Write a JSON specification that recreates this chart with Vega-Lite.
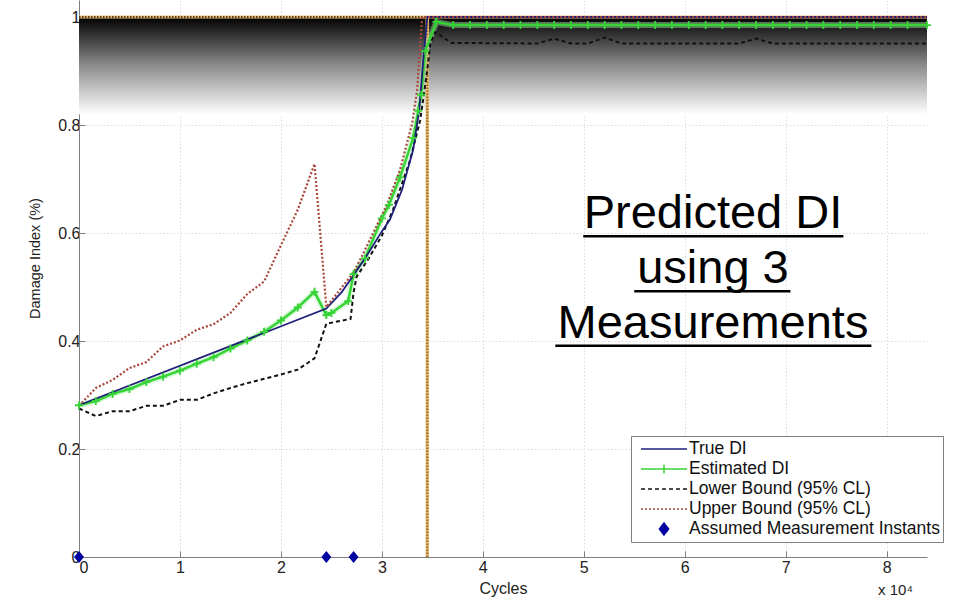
{
  "$schema": "https://vega.github.io/schema/vega-lite/v6.json",
  "width": 848,
  "height": 557,
  "autosize": {"type": "none"},
  "padding": {"left": 79, "top": 0, "right": 27, "bottom": 40},
  "background": "#ffffff",
  "config": {
    "font": "Liberation Sans",
    "view": {"stroke": null}
  },
  "datasets": {
    "band": [{"x": 0, "x2": 8.4, "y": 0.82, "y2": 1}],
    "limitH": [{"x": 0, "x2": 8.4, "y": 1}],
    "limitV": [{"x": 3.45, "y": 0, "y2": 1}],
    "instants": [{"x": 0, "y": 0}, {"x": 2.45, "y": 0}, {"x": 2.72, "y": 0}],
    "notes": [
      {"x": 6.28, "y": 0.609, "text": "Predicted DI"},
      {"x": 6.28, "y": 0.507, "text": "using 3"},
      {"x": 6.28, "y": 0.406, "text": "Measurements"}
    ],
    "underlines": [
      {"x": 4.995, "x2": 7.572, "y": 0.594},
      {"x": 5.5, "x2": 7.047, "y": 0.492},
      {"x": 4.718, "x2": 7.849, "y": 0.391}
    ],
    "exponent": [{"x": 7.915, "y": -0.07, "text": "x 10⁴"}],
    "curves": [
      {"series": "Lower Bound (95% CL)", "x": 0, "y": 0.275},
      {"series": "Lower Bound (95% CL)", "x": 0.167, "y": 0.261},
      {"series": "Lower Bound (95% CL)", "x": 0.333, "y": 0.27},
      {"series": "Lower Bound (95% CL)", "x": 0.5, "y": 0.27},
      {"series": "Lower Bound (95% CL)", "x": 0.667, "y": 0.28},
      {"series": "Lower Bound (95% CL)", "x": 0.833, "y": 0.28},
      {"series": "Lower Bound (95% CL)", "x": 1.0, "y": 0.291},
      {"series": "Lower Bound (95% CL)", "x": 1.167, "y": 0.291},
      {"series": "Lower Bound (95% CL)", "x": 1.333, "y": 0.303},
      {"series": "Lower Bound (95% CL)", "x": 1.5, "y": 0.313},
      {"series": "Lower Bound (95% CL)", "x": 1.667, "y": 0.322},
      {"series": "Lower Bound (95% CL)", "x": 1.833, "y": 0.33},
      {"series": "Lower Bound (95% CL)", "x": 2.0, "y": 0.338},
      {"series": "Lower Bound (95% CL)", "x": 2.167, "y": 0.347},
      {"series": "Lower Bound (95% CL)", "x": 2.333, "y": 0.368},
      {"series": "Lower Bound (95% CL)", "x": 2.45, "y": 0.432},
      {"series": "Lower Bound (95% CL)", "x": 2.69, "y": 0.441},
      {"series": "Lower Bound (95% CL)", "x": 2.72, "y": 0.49},
      {"series": "Lower Bound (95% CL)", "x": 2.75, "y": 0.519},
      {"series": "Lower Bound (95% CL)", "x": 2.87, "y": 0.553},
      {"series": "Lower Bound (95% CL)", "x": 3.0, "y": 0.595},
      {"series": "Lower Bound (95% CL)", "x": 3.11, "y": 0.643},
      {"series": "Lower Bound (95% CL)", "x": 3.28, "y": 0.735},
      {"series": "Lower Bound (95% CL)", "x": 3.38, "y": 0.809},
      {"series": "Lower Bound (95% CL)", "x": 3.45, "y": 0.902},
      {"series": "Lower Bound (95% CL)", "x": 3.48, "y": 0.951},
      {"series": "Lower Bound (95% CL)", "x": 3.53, "y": 0.972},
      {"series": "Lower Bound (95% CL)", "x": 3.69, "y": 0.952},
      {"series": "Lower Bound (95% CL)", "x": 4.54, "y": 0.951},
      {"series": "Lower Bound (95% CL)", "x": 4.707, "y": 0.96},
      {"series": "Lower Bound (95% CL)", "x": 4.873, "y": 0.951},
      {"series": "Lower Bound (95% CL)", "x": 5.04, "y": 0.951},
      {"series": "Lower Bound (95% CL)", "x": 5.207, "y": 0.962},
      {"series": "Lower Bound (95% CL)", "x": 5.373, "y": 0.951},
      {"series": "Lower Bound (95% CL)", "x": 6.54, "y": 0.951},
      {"series": "Lower Bound (95% CL)", "x": 6.707, "y": 0.96},
      {"series": "Lower Bound (95% CL)", "x": 6.873, "y": 0.951},
      {"series": "Lower Bound (95% CL)", "x": 8.4, "y": 0.951},

      {"series": "Estimated DI", "x": 0, "y": 0.281},
      {"series": "Estimated DI", "x": 0.167, "y": 0.289},
      {"series": "Estimated DI", "x": 0.333, "y": 0.302},
      {"series": "Estimated DI", "x": 0.5, "y": 0.311},
      {"series": "Estimated DI", "x": 0.667, "y": 0.324},
      {"series": "Estimated DI", "x": 0.833, "y": 0.334},
      {"series": "Estimated DI", "x": 1.0, "y": 0.345},
      {"series": "Estimated DI", "x": 1.167, "y": 0.358},
      {"series": "Estimated DI", "x": 1.333, "y": 0.37},
      {"series": "Estimated DI", "x": 1.5, "y": 0.386},
      {"series": "Estimated DI", "x": 1.667, "y": 0.401},
      {"series": "Estimated DI", "x": 1.833, "y": 0.417},
      {"series": "Estimated DI", "x": 2.0, "y": 0.438},
      {"series": "Estimated DI", "x": 2.167, "y": 0.462},
      {"series": "Estimated DI", "x": 2.333, "y": 0.491},
      {"series": "Estimated DI", "x": 2.45, "y": 0.448},
      {"series": "Estimated DI", "x": 2.5, "y": 0.452},
      {"series": "Estimated DI", "x": 2.667, "y": 0.474},
      {"series": "Estimated DI", "x": 2.72, "y": 0.524},
      {"series": "Estimated DI", "x": 2.833, "y": 0.553},
      {"series": "Estimated DI", "x": 3.0, "y": 0.627},
      {"series": "Estimated DI", "x": 3.07, "y": 0.652},
      {"series": "Estimated DI", "x": 3.18, "y": 0.703},
      {"series": "Estimated DI", "x": 3.31, "y": 0.776},
      {"series": "Estimated DI", "x": 3.36, "y": 0.826},
      {"series": "Estimated DI", "x": 3.39, "y": 0.856},
      {"series": "Estimated DI", "x": 3.43, "y": 0.937},
      {"series": "Estimated DI", "x": 3.54, "y": 0.991},
      {"series": "Estimated DI", "x": 3.707, "y": 0.985},
      {"series": "Estimated DI", "x": 3.873, "y": 0.985},
      {"series": "Estimated DI", "x": 4.04, "y": 0.985},
      {"series": "Estimated DI", "x": 4.207, "y": 0.985},
      {"series": "Estimated DI", "x": 4.373, "y": 0.985},
      {"series": "Estimated DI", "x": 4.54, "y": 0.985},
      {"series": "Estimated DI", "x": 4.707, "y": 0.985},
      {"series": "Estimated DI", "x": 4.873, "y": 0.985},
      {"series": "Estimated DI", "x": 5.04, "y": 0.985},
      {"series": "Estimated DI", "x": 5.207, "y": 0.985},
      {"series": "Estimated DI", "x": 5.373, "y": 0.985},
      {"series": "Estimated DI", "x": 5.54, "y": 0.985},
      {"series": "Estimated DI", "x": 5.707, "y": 0.985},
      {"series": "Estimated DI", "x": 5.873, "y": 0.985},
      {"series": "Estimated DI", "x": 6.04, "y": 0.985},
      {"series": "Estimated DI", "x": 6.207, "y": 0.985},
      {"series": "Estimated DI", "x": 6.373, "y": 0.985},
      {"series": "Estimated DI", "x": 6.54, "y": 0.985},
      {"series": "Estimated DI", "x": 6.707, "y": 0.985},
      {"series": "Estimated DI", "x": 6.873, "y": 0.985},
      {"series": "Estimated DI", "x": 7.04, "y": 0.985},
      {"series": "Estimated DI", "x": 7.207, "y": 0.985},
      {"series": "Estimated DI", "x": 7.373, "y": 0.985},
      {"series": "Estimated DI", "x": 7.54, "y": 0.985},
      {"series": "Estimated DI", "x": 7.707, "y": 0.985},
      {"series": "Estimated DI", "x": 7.873, "y": 0.985},
      {"series": "Estimated DI", "x": 8.04, "y": 0.985},
      {"series": "Estimated DI", "x": 8.207, "y": 0.985},
      {"series": "Estimated DI", "x": 8.4, "y": 0.985},

      {"series": "True DI", "x": 0, "y": 0.281},
      {"series": "True DI", "x": 2.45, "y": 0.46},
      {"series": "True DI", "x": 2.6, "y": 0.49},
      {"series": "True DI", "x": 2.72, "y": 0.522},
      {"series": "True DI", "x": 2.85, "y": 0.558},
      {"series": "True DI", "x": 3.0, "y": 0.603},
      {"series": "True DI", "x": 3.08, "y": 0.625},
      {"series": "True DI", "x": 3.2, "y": 0.68},
      {"series": "True DI", "x": 3.31, "y": 0.754},
      {"series": "True DI", "x": 3.37, "y": 0.828},
      {"series": "True DI", "x": 3.41, "y": 0.92},
      {"series": "True DI", "x": 3.45, "y": 1.0},
      {"series": "True DI", "x": 8.4, "y": 1.0},

      {"series": "Upper Bound (95% CL)", "x": 0, "y": 0.28},
      {"series": "Upper Bound (95% CL)", "x": 0.167, "y": 0.313},
      {"series": "Upper Bound (95% CL)", "x": 0.333, "y": 0.328},
      {"series": "Upper Bound (95% CL)", "x": 0.5, "y": 0.35},
      {"series": "Upper Bound (95% CL)", "x": 0.667, "y": 0.361},
      {"series": "Upper Bound (95% CL)", "x": 0.833, "y": 0.39},
      {"series": "Upper Bound (95% CL)", "x": 1.0, "y": 0.401},
      {"series": "Upper Bound (95% CL)", "x": 1.167, "y": 0.421},
      {"series": "Upper Bound (95% CL)", "x": 1.333, "y": 0.431},
      {"series": "Upper Bound (95% CL)", "x": 1.5, "y": 0.452},
      {"series": "Upper Bound (95% CL)", "x": 1.667, "y": 0.487},
      {"series": "Upper Bound (95% CL)", "x": 1.833, "y": 0.51},
      {"series": "Upper Bound (95% CL)", "x": 2.0, "y": 0.577},
      {"series": "Upper Bound (95% CL)", "x": 2.167, "y": 0.643},
      {"series": "Upper Bound (95% CL)", "x": 2.333, "y": 0.728},
      {"series": "Upper Bound (95% CL)", "x": 2.45, "y": 0.463},
      {"series": "Upper Bound (95% CL)", "x": 2.72, "y": 0.527},
      {"series": "Upper Bound (95% CL)", "x": 2.8, "y": 0.556},
      {"series": "Upper Bound (95% CL)", "x": 3.05, "y": 0.652},
      {"series": "Upper Bound (95% CL)", "x": 3.18, "y": 0.717},
      {"series": "Upper Bound (95% CL)", "x": 3.3, "y": 0.803},
      {"series": "Upper Bound (95% CL)", "x": 3.35, "y": 0.865},
      {"series": "Upper Bound (95% CL)", "x": 3.38, "y": 0.951},
      {"series": "Upper Bound (95% CL)", "x": 3.4, "y": 1.0},
      {"series": "Upper Bound (95% CL)", "x": 8.4, "y": 1.0}
    ]
  },
  "encoding": {
    "x": {
      "field": "x",
      "type": "quantitative",
      "title": "Cycles",
      "scale": {"domain": [0, 8.4], "nice": false, "zero": false},
      "axis": {
        "values": [0, 1, 2, 3, 4, 5, 6, 7, 8],
        "format": "d",
        "grid": true,
        "gridColor": "#dcdcdc",
        "gridDash": [1.5, 2],
        "domainColor": "#7f7f7f",
        "tickColor": "#7f7f7f",
        "tickSize": -6,
        "labelPadding": 8,
        "labelFontSize": 16,
        "labelColor": "#222222",
        "titleFontSize": 16,
        "titleFontWeight": "normal",
        "titleColor": "#222222",
        "titleY": 23,
        "titleBaseline": "top"
      }
    },
    "y": {
      "field": "y",
      "type": "quantitative",
      "title": "Damage Index (%)",
      "scale": {"domain": [0, 1.0315], "nice": false, "zero": false},
      "axis": {
        "values": [0, 0.2, 0.4, 0.6, 0.8, 1],
        "format": ".1~f",
        "grid": true,
        "gridColor": "#dcdcdc",
        "gridDash": [1.5, 2],
        "domainColor": "#7f7f7f",
        "tickColor": "#7f7f7f",
        "tickSize": -6,
        "labelPadding": 5,
        "labelFontSize": 16,
        "labelColor": "#222222",
        "titleFontSize": 14.5,
        "titleFontWeight": "normal",
        "titleColor": "#222222",
        "titleAngle": -90,
        "titleX": -37,
        "titleY": 258,
        "titleBaseline": "bottom"
      }
    }
  },
  "layer": [
    {
      "data": {"name": "band"},
      "mark": {
        "type": "rect",
        "color": {
          "gradient": "linear",
          "x1": 0, "y1": 0, "x2": 0, "y2": 1,
          "stops": [
            {"offset": 0, "color": "#000000"},
            {"offset": 0.5, "color": "#8c8c8c"},
            {"offset": 1, "color": "#ffffff"}
          ]
        }
      },
      "encoding": {"x2": {"field": "x2"}, "y2": {"field": "y2"}}
    },
    {
      "data": {"name": "limitH"},
      "mark": {"type": "rule", "color": "#e6bd74", "strokeWidth": 3},
      "encoding": {"x2": {"field": "x2"}}
    },
    {
      "data": {"name": "limitH"},
      "mark": {"type": "rule", "color": "#5a3a1c", "strokeWidth": 2, "strokeDash": [1.5, 1.5]},
      "encoding": {"x2": {"field": "x2"}}
    },
    {
      "data": {"name": "limitV"},
      "mark": {"type": "rule", "color": "#e6bd74", "strokeWidth": 3.5},
      "encoding": {"y2": {"field": "y2"}}
    },
    {
      "data": {"name": "limitV"},
      "mark": {"type": "rule", "color": "#9a6a2c", "strokeWidth": 2, "strokeDash": [1.5, 1.5]},
      "encoding": {"y2": {"field": "y2"}}
    },
    {
      "data": {"name": "curves"},
      "encoding": {
        "color": {
          "field": "series",
          "type": "nominal",
          "scale": {
            "domain": ["True DI", "Estimated DI", "Lower Bound (95% CL)", "Upper Bound (95% CL)", "Assumed Measurement Instants"],
            "range": ["#1f1f7a", "#36d436", "#111111", "#a8483a", "#0000a0"]
          },
          "legend": {
            "orient": "none",
            "legendX": 552,
            "legendY": 436,
            "title": null,
            "padding": 3,
            "clipHeight": 20,
            "rowPadding": 0,
            "symbolSize": 2116,
            "symbolStrokeWidth": 1.5,
            "symbolOffset": 6,
            "labelOffset": 1,
            "labelFontSize": 17.5,
            "labelColor": "#111111",
            "labelLimit": 400,
            "strokeColor": "#808080",
            "fillColor": "#ffffff",
            "encode": {
              "symbols": {
                "update": {
                  "shape": {"signal": "datum.value === 'Assumed Measurement Instants' ? 'M0,-0.26L0.2,0L0,0.26L-0.2,0Z' : datum.value === 'Estimated DI' ? 'M-1,0H1M0,-0.2V0.2' : 'M-1,0H1'"},
                  "stroke": {"signal": "datum.value === 'Assumed Measurement Instants' ? 'transparent' : scale('color', datum.value)"},
                  "fill": {"signal": "datum.value === 'Assumed Measurement Instants' ? '#0000a0' : 'transparent'"},
                  "strokeDash": {"signal": "datum.value === 'Lower Bound (95% CL)' ? [4, 3] : datum.value === 'Upper Bound (95% CL)' ? [2, 2] : [1, 0]"},
                  "strokeWidth": {"value": 1.5},
                  "size": {"value": 2116},
                  "opacity": {"value": 1}
                }
              }
            }
          }
        }
      },
      "layer": [
        {
          "transform": [{"filter": "datum.series === 'Estimated DI'"}],
          "mark": {"type": "line", "strokeWidth": 6, "opacity": 0.45},
          "encoding": {"color": {"value": "#a8f0a8"}}
        },
        {
          "transform": [{"filter": "datum.series === 'Lower Bound (95% CL)'"}],
          "mark": {"type": "line", "strokeWidth": 2, "strokeDash": [4, 3]}
        },
        {
          "transform": [{"filter": "datum.series === 'Estimated DI'"}],
          "mark": {"type": "line", "strokeWidth": 2.5}
        },
        {
          "transform": [{"filter": "datum.series === 'True DI'"}],
          "mark": {"type": "line", "strokeWidth": 1.8}
        },
        {
          "transform": [{"filter": "datum.series === 'Upper Bound (95% CL)'"}],
          "mark": {"type": "line", "strokeWidth": 2.2, "strokeDash": [2, 2]}
        },
        {
          "transform": [{"filter": "datum.series === 'Estimated DI'"}],
          "mark": {"type": "point", "shape": "M-1,0H1M0,-1V1", "size": 64, "filled": false, "strokeWidth": 1.8, "opacity": 1}
        }
      ]
    },
    {
      "data": {"name": "instants"},
      "mark": {"type": "point", "shape": "M0,-1.2L1,0L0,1.2L-1,0Z", "size": 100, "filled": true, "color": "#0000a0", "opacity": 1}
    },
    {
      "data": {"name": "notes"},
      "mark": {"type": "text", "fontSize": 47, "align": "center", "baseline": "alphabetic", "color": "#000000"},
      "encoding": {"text": {"field": "text"}}
    },
    {
      "data": {"name": "underlines"},
      "mark": {"type": "rule", "color": "#000000", "strokeWidth": 2.5},
      "encoding": {"x2": {"field": "x2"}}
    },
    {
      "data": {"name": "exponent"},
      "mark": {"type": "text", "fontSize": 15, "align": "left", "baseline": "alphabetic", "color": "#222222"},
      "encoding": {"text": {"field": "text"}}
    }
  ]
}
